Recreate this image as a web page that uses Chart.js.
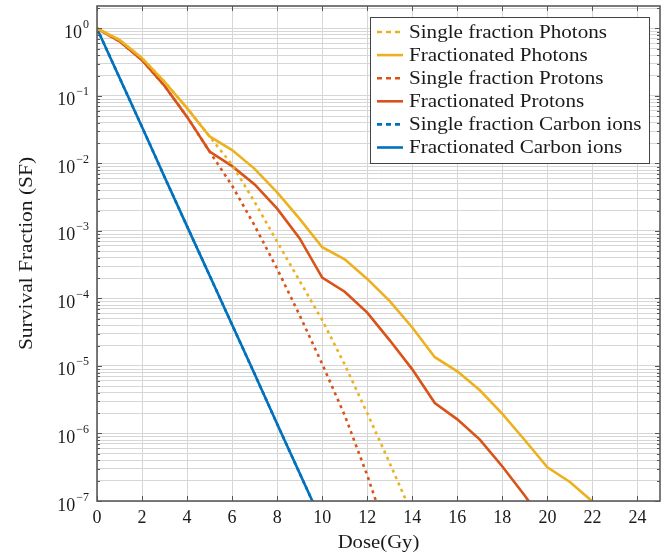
<!DOCTYPE html>
<html>
<head>
<meta charset="utf-8">
<script src="https://cdn.jsdelivr.net/npm/chart.js@4.4.1/dist/chart.umd.min.js"></script>
<style>
  html, body { margin: 0; padding: 0; background: #fff; }
</style>
</head>
<body>
<canvas id="sfChart" width="661" height="553"></canvas>
<script>
// Dose (Gy), one point per Gy
const doses = [0, 1, 2, 3, 4, 5, 6, 7, 8, 9, 10, 11, 12, 13, 14, 15, 16, 17, 18, 19, 20, 21, 22];

// Survival fraction
const photonsSingle = [1, 0.676, 0.363, 0.162, 0.0661, 0.0251, 0.00955, 0.00269, 6.92e-4, 1.82e-4,
  4.79e-5, 1.05e-5, 2.0e-6, 3.63e-7, 6.3e-8];
const photonsFractionated = [1, 0.676, 0.363, 0.162, 0.0661, 0.0251, 0.0158, 0.00832, 0.00372, 0.00151,
  5.75e-4, 3.80e-4, 1.95e-4, 9.12e-5, 3.72e-5, 1.35e-5, 8.32e-6, 4.37e-6, 1.95e-6, 7.94e-7,
  3.16e-7, 1.91e-7, 9.8e-8];
const protonsSingle = [1, 0.646, 0.339, 0.141, 0.0490, 0.0150, 0.00468, 0.00120, 2.75e-4, 5.62e-5,
  1.07e-5, 1.86e-6, 2.40e-7, 2.5e-8];
const protonsFractionated = [1, 0.646, 0.339, 0.141, 0.0490, 0.0150, 0.00912, 0.00490, 0.00214, 7.76e-4,
  2.04e-4, 1.26e-4, 6.17e-5, 2.40e-5, 8.91e-6, 2.82e-6, 1.62e-6, 8.13e-7, 3.24e-7, 1.20e-7, 4.0e-8];
const carbonSingle = [1, 0.186, 0.0347, 0.00631, 0.00117, 2.19e-4, 4.07e-5, 7.59e-6, 1.38e-6, 2.57e-7, 4.79e-8];
const carbonFractionated = [1, 0.186, 0.0347, 0.00631, 0.00117, 2.19e-4, 4.07e-5, 7.59e-6, 1.38e-6, 2.57e-7, 4.79e-8];

const seriesLabels = [
  "Single fraction Photons", "Fractionated Photons",
  "Single fraction Protons", "Fractionated Protons",
  "Single fraction Carbon ions", "Fractionated Carbon ions"
];

// Axis ticks and titles
const xTickValues = [0, 2, 4, 6, 8, 10, 12, 14, 16, 18, 20, 22, 24];
const yDecades = [-7, -6, -5, -4, -3, -2, -1, 0];
const xTitle = "Dose(Gy)";
const yTitle = "Survival Fraction (SF)";

const YELLOW = "#EDB120";
const ORANGE = "#D95319";
const BLUE = "#0072BD";
const FONT = "'Liberation Serif', 'DejaVu Serif', serif";
const TEXT = "#1a1a1a";
const DOTS = [3, 4];

function toPoints(values) {
  return values.map((v, i) => ({ x: doses[i], y: v }));
}

function lineSet(label, values, color, dotted) {
  return {
    label: label,
    data: toPoints(values),
    borderColor: color,
    backgroundColor: color,
    borderWidth: 2.6,
    borderDash: dotted ? DOTS : [],
    pointRadius: 0,
    tension: 0,
    fill: false,
  };
}

// the original uses a wider serif, so stretch text a little
function wideText(ctx, text, x, y, sx, rot) {
  ctx.save();
  ctx.translate(x, y);
  if (rot) ctx.rotate(rot);
  ctx.scale(sx, 1);
  ctx.fillText(text, 0, 0);
  ctx.restore();
}

// frame, inside tick marks, superscript y labels, titles and the boxed legend
const decorPlugin = {
  id: "decor",
  afterDraw(chart) {
    const ctx = chart.ctx;
    const a = chart.chartArea;
    const yScale = chart.scales.y;
    const xScale = chart.scales.x;
    ctx.save();

    // small inward ticks
    ctx.strokeStyle = "#555";
    ctx.lineWidth = 1;
    yScale.ticks.forEach((t) => {
      const py = Math.round(yScale.getPixelForValue(t.value)) + 0.5;
      const len = t.major ? 5 : 3;
      ctx.beginPath();
      ctx.moveTo(a.left, py); ctx.lineTo(a.left + len, py);
      ctx.moveTo(a.right, py); ctx.lineTo(a.right - len, py);
      ctx.stroke();
    });
    xTickValues.forEach((v) => {
      const px = Math.round(xScale.getPixelForValue(v)) + 0.5;
      ctx.beginPath();
      ctx.moveTo(px, a.bottom); ctx.lineTo(px, a.bottom - 5);
      ctx.moveTo(px, a.top); ctx.lineTo(px, a.top + 5);
      ctx.stroke();
    });

    // frame
    ctx.strokeStyle = "#5a5a5a";
    ctx.lineWidth = 1.6;
    ctx.strokeRect(a.left, a.top, a.right - a.left, a.bottom - a.top);

    // y labels as 10^n
    ctx.fillStyle = TEXT;
    ctx.textBaseline = "alphabetic";
    yDecades.forEach((e) => {
      const py = yScale.getPixelForValue(Math.pow(10, e));
      const expText = e < 0 ? "\u2212" + Math.abs(e) : String(e);
      ctx.font = "12px " + FONT;
      const ew = ctx.measureText(expText).width;
      const right = a.left - 8;
      ctx.textAlign = "left";
      ctx.fillText(expText, right - ew, py - 0.5);
      ctx.font = "18px " + FONT;
      ctx.textAlign = "right";
      ctx.fillText("10", right - ew - 1, py + 9.5);
    });

    // axis titles
    ctx.font = "19px " + FONT;
    ctx.textAlign = "center";
    ctx.textBaseline = "middle";
    wideText(ctx, xTitle, (a.left + a.right) / 2, 543, 1.09, 0);
    wideText(ctx, yTitle, 27, (a.top + a.bottom) / 2, 1.13, -Math.PI / 2);

    // legend
    const box = { x: 370, y: 17, w: 279, h: 146 };
    ctx.fillStyle = "#fff";
    ctx.fillRect(box.x, box.y, box.w, box.h);
    ctx.strokeStyle = "#444";
    ctx.lineWidth = 1;
    ctx.strokeRect(box.x + 0.5, box.y + 0.5, box.w, box.h);
    ctx.font = "19px " + FONT;
    ctx.textAlign = "left";
    ctx.textBaseline = "middle";
    chart.data.datasets.forEach((ds, i) => {
      const ry = box.y + 15 + i * 23.1;
      ctx.strokeStyle = ds.borderColor;
      ctx.lineWidth = ds.borderWidth;
      ctx.setLineDash(ds.borderDash.length ? [5, 4] : []);
      ctx.beginPath();
      ctx.moveTo(box.x + 7, ry);
      ctx.lineTo(box.x + 33, ry);
      ctx.stroke();
      ctx.setLineDash([]);
      ctx.fillStyle = TEXT;
      wideText(ctx, ds.label, box.x + 39, ry + 1, 1.11, 0);
    });
    ctx.restore();
  },
};

new Chart(document.getElementById("sfChart").getContext("2d"), {
  type: "line",
  data: {
    datasets: [
      lineSet(seriesLabels[0], photonsSingle, YELLOW, true),
      lineSet(seriesLabels[1], photonsFractionated, YELLOW, false),
      lineSet(seriesLabels[2], protonsSingle, ORANGE, true),
      lineSet(seriesLabels[3], protonsFractionated, ORANGE, false),
      lineSet(seriesLabels[4], carbonSingle, BLUE, true),
      lineSet(seriesLabels[5], carbonFractionated, BLUE, false),
    ],
  },
  options: {
    responsive: false,
    animation: false,
    layout: { padding: { top: 6, right: 1, left: 0, bottom: 0 } },
    plugins: {
      legend: { display: false },
      tooltip: { enabled: false },
    },
    scales: {
      x: {
        type: "linear",
        min: 0,
        max: 25,
        afterBuildTicks(scale) {
          scale.ticks = xTickValues.map((v) => ({ value: v }));
        },
        afterFit(scale) { scale.height = 52; },
        grid: { color: "#d6d6d6", lineWidth: 1, drawTicks: false },
        border: { display: false },
        ticks: {
          padding: 6,
          color: TEXT,
          font: { family: FONT, size: 18 },
          maxRotation: 0,
          callback: (v) => String(v),
        },
        title: { display: false },
      },
      y: {
        type: "logarithmic",
        min: 1e-7,
        max: 2.15,
        afterBuildTicks(scale) {
          const ticks = [];
          yDecades.forEach((e) => {
            for (let m = 1; m <= 9; m++) {
              const v = m * Math.pow(10, e);
              if (v <= scale.max) ticks.push({ value: v, major: m === 1 });
            }
          });
          scale.ticks = ticks;
        },
        afterFit(scale) { scale.width = 97; },
        grid: { color: "#d6d6d6", lineWidth: 1, drawTicks: false },
        border: { display: false },
        ticks: { display: false },
        title: { display: false },
      },
    },
  },
  plugins: [decorPlugin],
});
</script>
</body>
</html>
